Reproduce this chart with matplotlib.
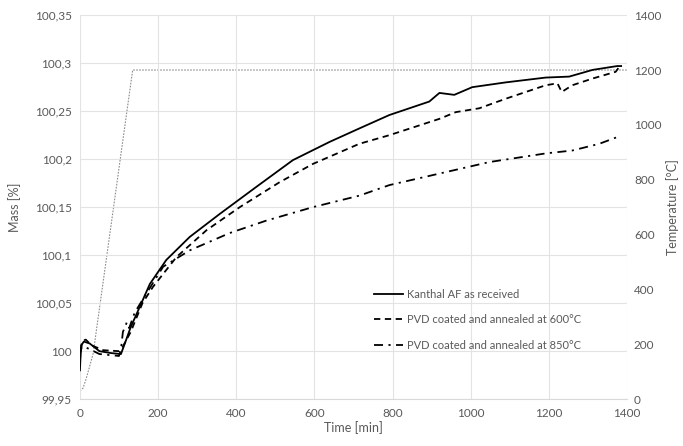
import matplotlib.pyplot as plt
from matplotlib.ticker import FuncFormatter

plt.rcParams['font.family'] = ['Lato', 'DejaVu Sans']

# Kanthal AF as received
t_ref = [0, 2, 5, 10, 25, 50, 80, 105, 115, 130, 153, 179, 221, 281, 358, 451, 545,
         639, 715, 792, 894, 920, 958, 1004, 1090, 1192, 1252, 1312, 1375, 1385]
m_ref = [99.98, 99.998, 100.007, 100.01, 100.008, 100.0, 99.998, 99.997, 100.008,
         100.025, 100.046, 100.07, 100.095, 100.119, 100.143, 100.171, 100.199,
         100.218, 100.232, 100.246, 100.26, 100.269, 100.267, 100.275, 100.28,
         100.285, 100.286, 100.293, 100.297, 100.297]

# PVD coated, annealed 600 °C
t_600 = [0, 3, 8, 15, 30, 60, 100, 110, 130, 160, 187, 247, 324, 409, 511, 596, 715,
         792, 920, 962, 1022, 1090, 1192, 1222, 1233, 1260, 1312, 1371, 1380]
m_600 = [99.99, 100.006, 100.011, 100.012, 100.006, 100.001, 100.0, 100.005, 100.02,
         100.05, 100.067, 100.098, 100.126, 100.15, 100.176, 100.195, 100.216,
         100.225, 100.242, 100.249, 100.253, 100.263, 100.277, 100.279, 100.27,
         100.277, 100.284, 100.291, 100.296]

# PVD coated, annealed 850 °C
t_850 = [0, 3, 8, 20, 50, 100, 105, 110, 120, 126, 140, 170, 213, 281, 383, 477, 596,
         715, 792, 920, 1048, 1192, 1260, 1329, 1375, 1382]
m_850 = [99.995, 100.003, 100.005, 100.003, 99.997, 99.995, 100.002, 100.02, 100.03,
         100.024, 100.04, 100.06, 100.088, 100.105, 100.123, 100.136, 100.15,
         100.162, 100.173, 100.185, 100.197, 100.206, 100.209, 100.216, 100.223,
         100.224]

# furnace temperature
t_temp = [0, 8, 15, 25, 34, 135, 1400]
temp = [30, 40, 70, 120, 167, 1200, 1200]

grey = '#595959'

fig = plt.figure(figsize=(6.83, 4.46), dpi=100)
ax = fig.add_axes([0.117, 0.105, 0.801, 0.861])
ax2 = ax.twinx()

ax2.plot(t_temp, temp, color='#8c8c8c', lw=0.8, ls=(0, (1.5, 1.2)), zorder=1)
ax.plot(t_ref, m_ref, color='black', lw=1.3, label='Kanthal AF as received', zorder=3)
ax.plot(t_600, m_600, color='black', lw=1.3, ls=(0, (3.5, 2.5)),
        label='PVD coated and annealed at 600°C', zorder=3)
ax.plot(t_850, m_850, color='black', lw=1.3, ls=(0, (5, 3, 1.2, 3)),
        label='PVD coated and annealed at 850°C', zorder=3)

ax.set_zorder(ax2.get_zorder() + 1)
ax.patch.set_visible(False)

ax.set_xlim(0, 1400)
ax.set_ylim(99.95, 100.35)
ax2.set_ylim(0, 1400)
ax.set_xticks(range(0, 1401, 200))
ax.set_yticks([99.95 + 0.05 * i for i in range(9)])
ax2.set_yticks(range(0, 1401, 200))
ax.yaxis.set_major_formatter(FuncFormatter(lambda v, p: ('%.2f' % v).rstrip('0').rstrip('.').replace('.', ',')))

ax.grid(color='#e3e3e3', lw=0.8)
for a in (ax, ax2):
    for s in a.spines.values():
        s.set_visible(False)
    a.tick_params(colors=grey, labelsize=8.5, length=0, pad=6)
ax2.tick_params(pad=5)
ax.spines['bottom'].set_visible(True)
ax.spines['bottom'].set_color('#d9d9d9')

ax.set_xlabel('Time [min]', color=grey, fontsize=9, labelpad=2)
ax.set_ylabel('Mass [%]', color=grey, fontsize=9, labelpad=10)
ax2.set_ylabel('Temperature [°C]', color=grey, fontsize=9, labelpad=3)

leg = ax.legend(loc='lower left', bbox_to_anchor=(0.52, 0.1), frameon=False,
                fontsize=8, handlelength=2.6, handletextpad=0.3, labelspacing=1.3)
for txt in leg.get_texts():
    txt.set_color(grey)

fig.savefig('out.png', dpi=100)
